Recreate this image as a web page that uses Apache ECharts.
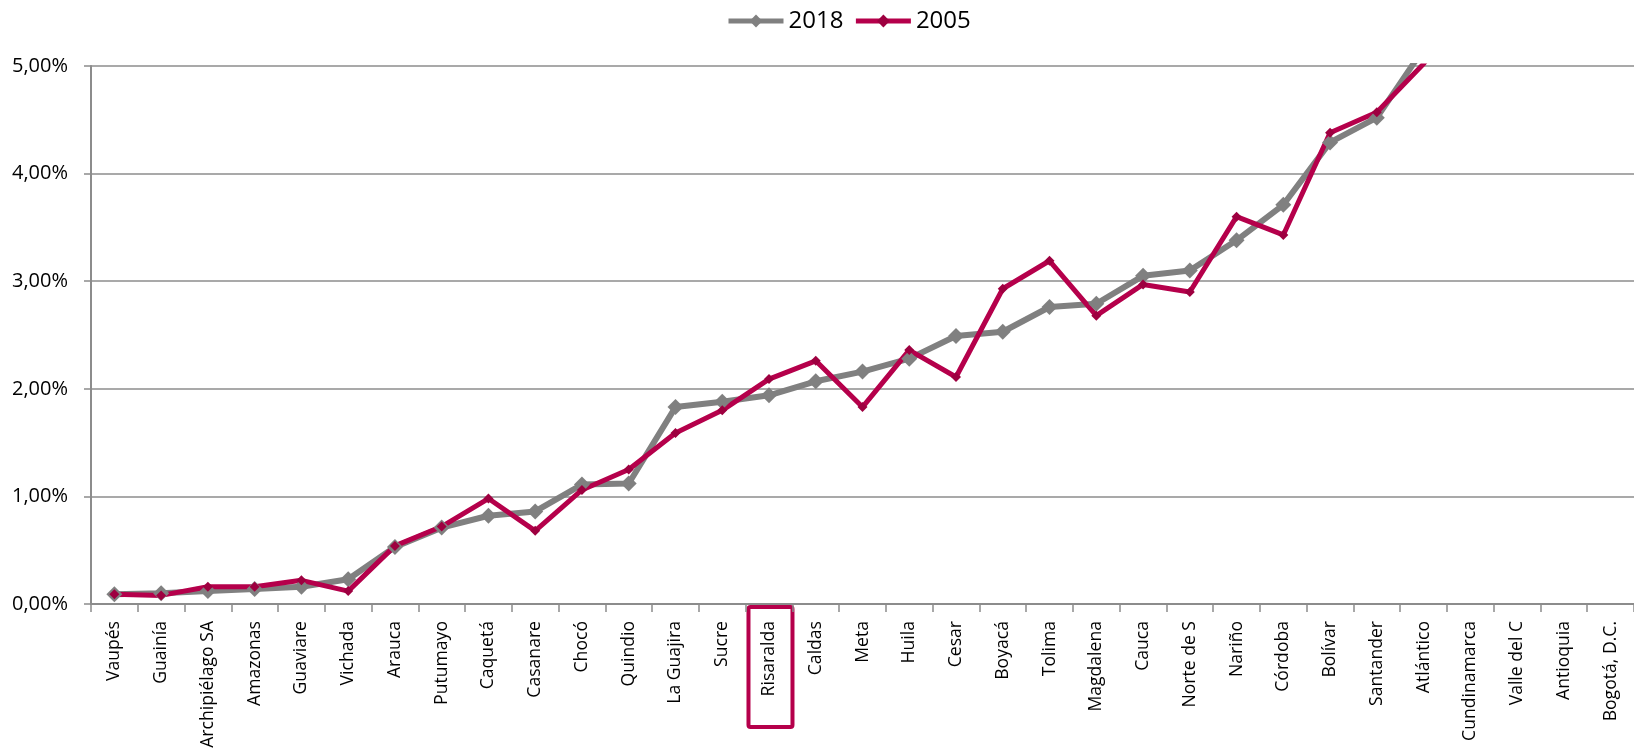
<!DOCTYPE html>
<html>
<head>
<meta charset="utf-8">
<title>Participación por departamento</title>
<script src="https://cdn.jsdelivr.net/npm/echarts@6/dist/echarts.min.js"></script>
<style>
    html, body { margin: 0; padding: 0; background: #fff; }
    #chart { width: 1634px; height: 748px; }
</style>
</head>
<body>
<div id="chart"></div>
<script>
    // categorías (departamentos)
    let departamentos = ['Vaupés', 'Guainía', 'Archipiélago SA', 'Amazonas', 'Guaviare', 'Vichada', 'Arauca',
        'Putumayo', 'Caquetá', 'Casanare', 'Chocó', 'Quindio', 'La Guajira', 'Sucre', 'Risaralda', 'Caldas',
        'Meta', 'Huila', 'Cesar', 'Boyacá', 'Tolima', 'Magdalena', 'Cauca', 'Norte de S', 'Nariño', 'Córdoba',
        'Bolívar', 'Santander', 'Atlántico', 'Cundinamarca', 'Valle del C', 'Antioquia', 'Bogotá, D.C.'];

    // participación en % (los últimos quedan fuera del eje, estimados)
    let serie2018 = [0.09, 0.10, 0.12, 0.14, 0.16, 0.23, 0.53, 0.71, 0.82, 0.86, 1.11, 1.12, 1.83, 1.88,
        1.94, 2.07, 2.16, 2.28, 2.49, 2.53, 2.76, 2.79, 3.05, 3.10, 3.38, 3.71, 4.29, 4.52,
        5.16, 6.3, 9.2, 13.2, 15.4];
    let serie2005 = [0.09, 0.08, 0.16, 0.16, 0.22, 0.12, 0.54, 0.72, 0.98, 0.68, 1.06, 1.25, 1.59, 1.80,
        2.09, 2.26, 1.83, 2.36, 2.11, 2.93, 3.19, 2.68, 2.97, 2.90, 3.60, 3.43, 4.38, 4.57,
        5.02, 5.6, 10.0, 13.8, 16.5];

    let yTicks = [0, 1, 2, 3, 4, 5];
    let destacado = 'Risaralda';

    let gris = '#808080';
    let rojo = '#B5004B';
    let fuente = '"Open Sans", "Noto Sans", sans-serif';

    let myChart = echarts.init(document.getElementById('chart'));

    let option = {
        animation: false,
        legend: {
            top: 4,
            left: 721,
            itemWidth: 55,
            itemHeight: 16,
            itemGap: 10,
            textStyle: {fontSize: 24, fontFamily: fuente, color: '#000'},
            data: [
                {name: '2018', lineStyle: {width: 5}},
                {name: '2005', lineStyle: {width: 5}}
            ]
        },
        grid: {left: 91, right: 0, top: 66, bottom: 144, outerBoundsMode: 'none', containLabel: false},
        xAxis: {
            type: 'category',
            data: departamentos,
            boundaryGap: true,
            axisLine: {lineStyle: {color: '#8c8c8c', width: 2}},
            axisTick: {show: true, length: 8, lineStyle: {color: '#8c8c8c', width: 1.5}},
            axisLabel: {
                rotate: 90,
                interval: 0,
                margin: 17,
                fontSize: 17.6,
                fontFamily: fuente,
                color: '#000'
            }
        },
        yAxis: {
            type: 'value',
            min: yTicks[0],
            max: yTicks[yTicks.length - 1],
            interval: 1,
            axisLine: {show: true, lineStyle: {color: '#8c8c8c', width: 2}},
            axisTick: {show: true, length: 7, lineStyle: {color: '#8c8c8c', width: 1.5}},
            splitLine: {lineStyle: {color: '#8c8c8c', width: 1.5}},
            axisLabel: {
                margin: 23,
                fontSize: 20,
                fontFamily: fuente,
                color: '#000',
                formatter: function (v) {
                    return v.toFixed(2).replace('.', ',') + '%';
                }
            }
        },
        series: [
            {
                name: '2018',
                type: 'line',
                data: serie2018,
                clip: true,
                symbol: 'diamond',
                symbolSize: 16,
                lineStyle: {color: gris, width: 6},
                itemStyle: {color: gris}
            },
            {
                name: '2005',
                type: 'line',
                data: serie2005,
                clip: true,
                symbol: 'diamond',
                symbolSize: 10,
                lineStyle: {color: rojo, width: 5},
                itemStyle: {color: '#9E0040'}
            }
        ]
    };

    myChart.setOption(option);

    // recuadro alrededor de la etiqueta destacada
    let px = myChart.convertToPixel({xAxisIndex: 0}, destacado);
    myChart.setOption({
        graphic: [{
            type: 'rect',
            shape: {x: px - 20.5, y: 607, width: 44, height: 120, r: 2},
            style: {fill: 'none', stroke: rojo, lineWidth: 4}
        }]
    });
</script>
</body>
</html>
